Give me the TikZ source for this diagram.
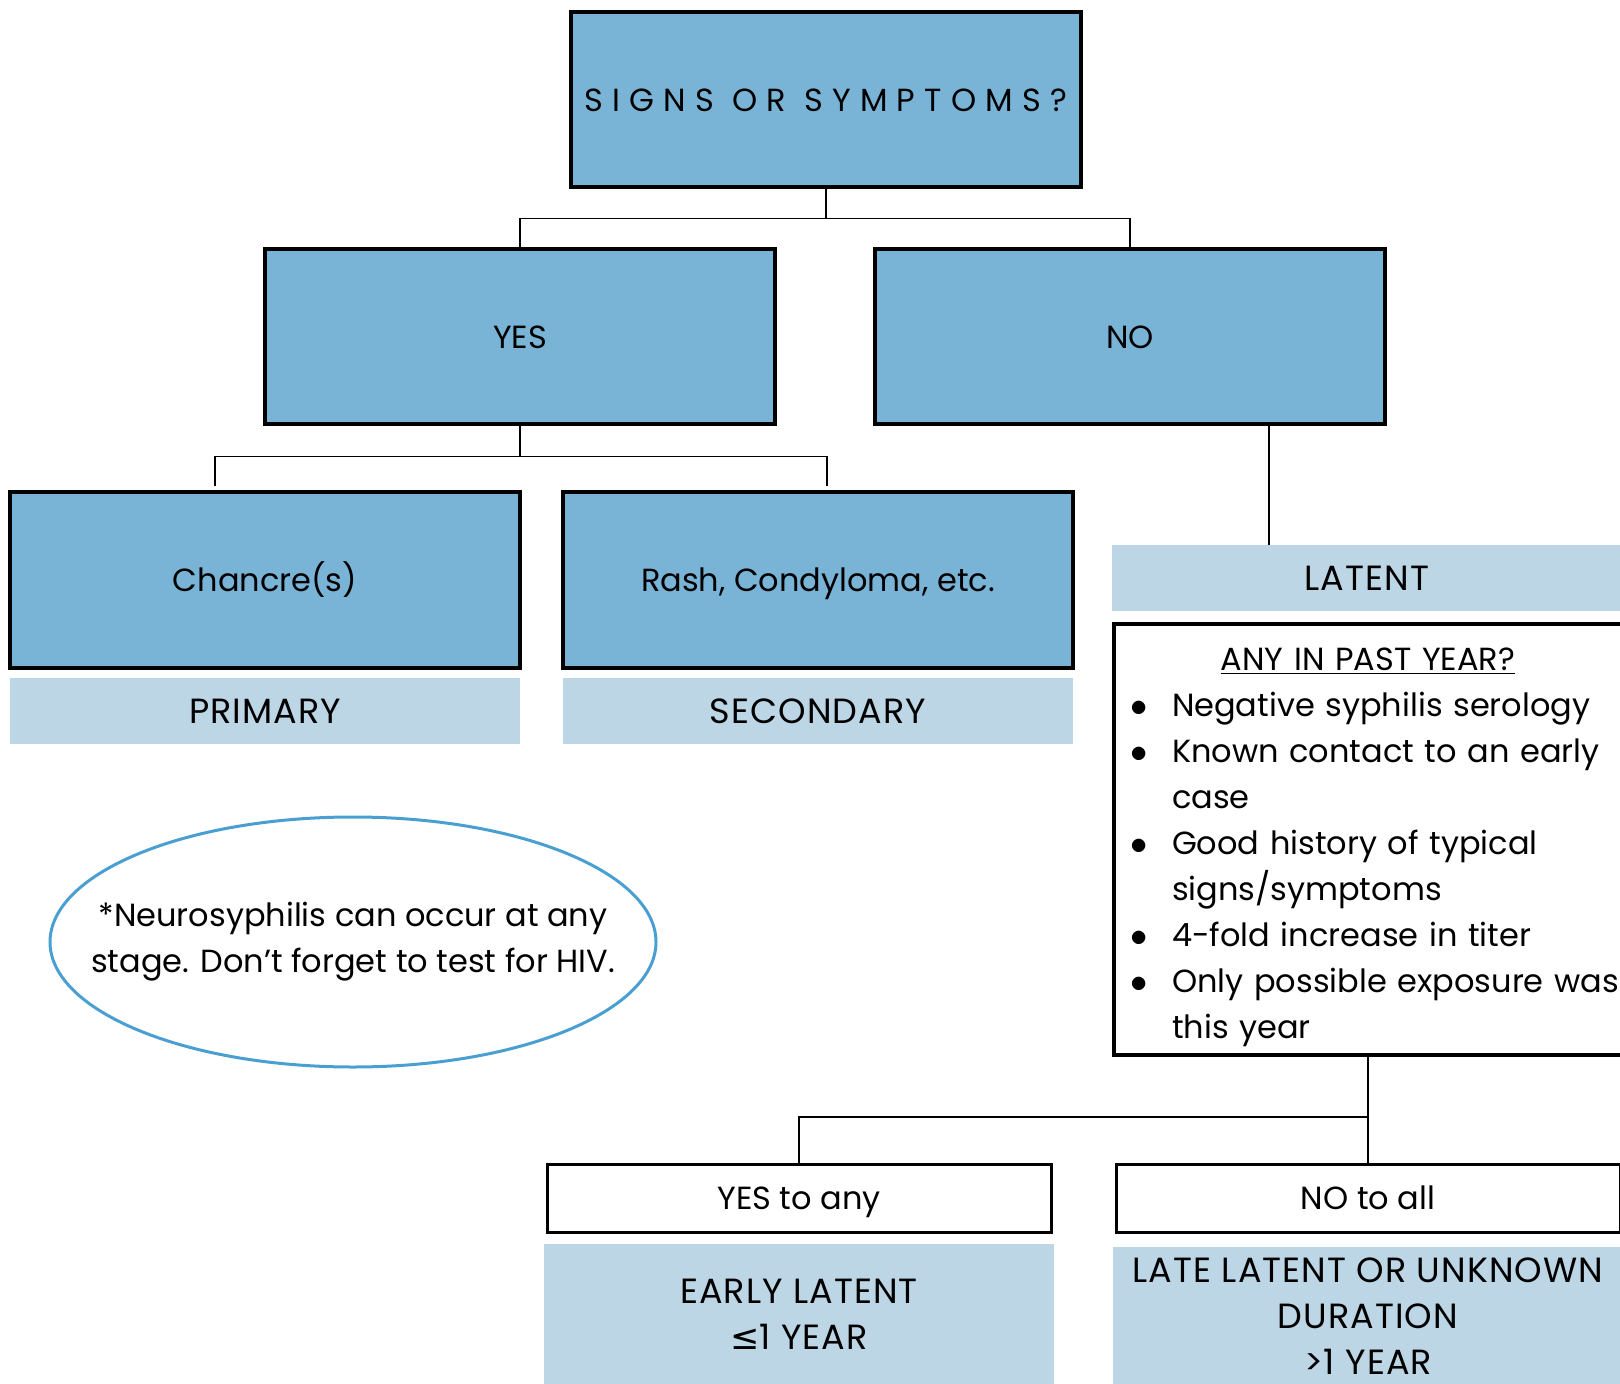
\documentclass[tikz,border=0pt]{standalone}
\usepackage{fontspec}
\setmainfont{Poppins}
\newfontfamily\symbfont{DejaVu Sans}
\usepackage{enumitem}
\usepackage{xcolor}
\usepackage{tikz}
\usetikzlibrary{positioning, shapes.geometric}
\usetikzlibrary{calc}
\definecolor{boxblue}{HTML}{79B4D7}
\definecolor{paleblue}{HTML}{BDD6E5}
\definecolor{ringblue}{HTML}{4A9FD2}
\tikzstyle{question} = [rectangle, minimum width=255pt, minimum height=87.5pt, text height=11.5pt, text depth=0pt, text centered, fill=boxblue, draw=black, line width=2pt]
\tikzstyle{stage} = [rectangle, minimum width=255pt, minimum height=33pt, text centered, fill=paleblue, font=\fontsize{17.5}{23}\selectfont\addfontfeature{LetterSpace=3}]
\tikzstyle{choice} = [rectangle, minimum width=252pt, minimum height=34pt, text height=11.5pt, text depth=0pt, text centered, draw=black, line width=1.5pt]
\tikzstyle{listbox} = [rectangle, minimum width=254pt, minimum height=215.5pt, draw=black, line width=2pt]
\tikzstyle{connector} = [line width=0.75pt]
\tikzstyle{every node}=[font=\fontsize{16}{23}\selectfont]

\begin{document}
\begin{tikzpicture}[x=0.5pt,y=-0.5pt]
			\useasboundingbox (0,0) rectangle (1620,1384);
			\node (signs) [question] at (826,100) {{\addfontfeature{LetterSpace=29}SIGNS OR SYMPTOMS?}};
			\node (yes) [question] at (520,337) {YES};
			\node (no) [question] at (1130,337) {NO};
			\node (chancre) [question] at (265,580) {Chancre(s)};
			\node (rash) [question] at (818,580) {Rash, Condyloma, etc.};
			\node (primary) [stage, below=4pt of chancre] {PRIMARY};
			\node (secondary) [stage, below=4pt of rash] {SECONDARY};
			
			\node (latent) [stage] at (1367,578) {LATENT};
			\node (anybox) [listbox] at (1368,839.5) {};
			\node (anytext) [text width=240pt, inner xsep=7pt, align=left] at ($(anybox.center)+(0,8)$) {%
				\centerline{\underline{ANY IN PAST YEAR?}}
				\begin{itemize}[label=$\bullet$, leftmargin=22pt, rightmargin=-30pt, labelsep=12pt, itemsep=0pt, topsep=0pt, parsep=0pt, partopsep=0pt]
					\item Negative syphilis serology
					\item Known contact to an early\newline case
					\item Good history of typical\newline signs/symptoms
					\item 4-fold increase in titer
					\item Only possible exposure was\newline this year
				\end{itemize}};
			\node (yesany) [choice] at (799,1198) {YES to any};
			\node (noall) [choice] at (1368,1198) {NO to all};
			\node (early) [stage, minimum height=70pt, align=center] at (799,1314) {EARLY LATENT\\{\symbfont ≤}1 YEAR};
			\node (late) [stage, minimum height=69pt, align=center] at (1368,1316) {LATE LATENT OR UNKNOWN\\DURATION\\>1 YEAR};
			
			% note
			\node (note) [ellipse, draw=ringblue, line width=1.5pt, minimum width=303pt, minimum height=125pt] at (353,942) {};
			\node (notetext) [align=center] at (note.center) {*Neurosyphilis can occur at any\\stage. Don’t forget to test for HIV.};
			
			% connectors
			\coordinate (primtop) at (215,486);
			\coordinate (sectop) at (827,486);
			\coordinate (noout) at ($(no.south)+(139,0)$);
			\draw [connector](signs.south) -- ++(0,29) -| (yes.north);
			\draw [connector](signs.south) -- ++(0,29) -| (no.north);
			\draw [connector](yes.south) -- ++(0,30) -| (primtop);
			\draw [connector](yes.south) -- ++(0,30) -| (sectop);
			\draw [connector](noout) -- (noout |- latent.north);
			\draw [connector](anybox.south) -- (noall.north);
			\draw [connector](anybox.south) -- ++(0,60) -| (yesany.north);
			
\end{tikzpicture}
\end{document}
